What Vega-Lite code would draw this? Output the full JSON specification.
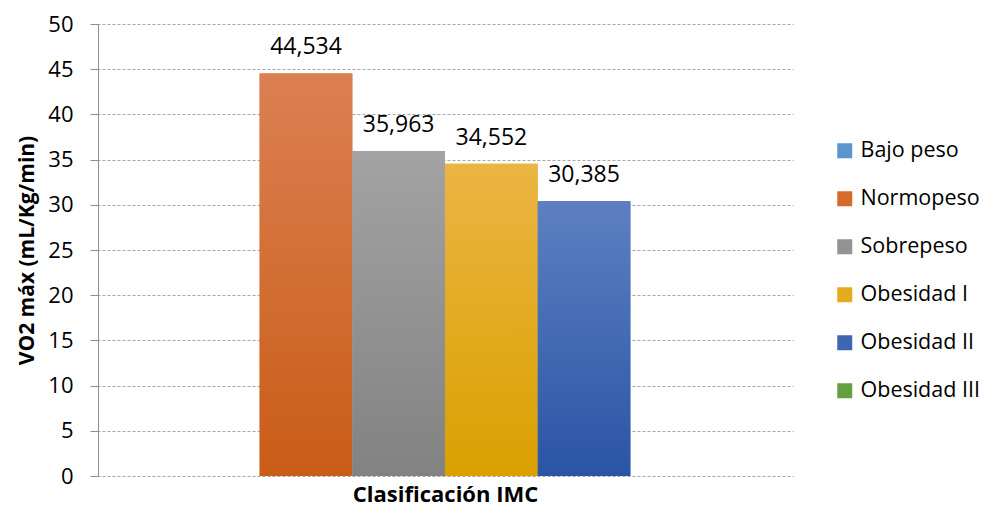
{
  "$schema": "https://vega.github.io/schema/vega-lite/v6.json",
  "width": 696,
  "height": 452,
  "autosize": {"type": "none"},
  "padding": {"left": 97, "top": 24, "right": 192, "bottom": 32},
  "background": "white",
  "config": {
    "view": {"stroke": null},
    "font": "Open Sans",
    "locale": {"number": {"decimal": ",", "thousands": ".", "grouping": [3], "currency": ["", " €"]}}
  },
  "data": {
    "values": [
      {"serie": "Normopeso", "vo2": 44.534},
      {"serie": "Sobrepeso", "vo2": 35.963},
      {"serie": "Obesidad I", "vo2": 34.552},
      {"serie": "Obesidad II", "vo2": 30.385}
    ]
  },
  "encoding": {
    "x": {
      "field": "serie",
      "type": "nominal",
      "scale": {
        "domain": ["Bajo peso", "Normopeso", "Sobrepeso", "Obesidad I", "Obesidad II", "Obesidad III"],
        "paddingInner": 0,
        "paddingOuter": 0.755
      },
      "axis": {
        "title": "Clasificación IMC",
        "labels": false,
        "ticks": false,
        "domain": false,
        "titleFontSize": 22,
        "titleFontWeight": "bold",
        "titleColor": "#000000",
        "titleBaseline": "alphabetic",
        "titlePadding": 25,
        "titleFont": "Open Sans"
      }
    },
    "y": {
      "field": "vo2",
      "type": "quantitative",
      "scale": {"domain": [0, 50], "nice": false},
      "axis": {
        "title": "VO2 máx (mL/Kg/min)",
        "values": [0, 5, 10, 15, 20, 25, 30, 35, 40, 45, 50],
        "labelFontSize": 22,
        "labelColor": "#000000",
        "labelPadding": 17,
        "labelFont": "Open Sans",
        "titleFontSize": 21,
        "titleFontWeight": "bold",
        "titleColor": "#000000",
        "titlePadding": 10,
        "titleFont": "Open Sans",
        "domainColor": "#8C8C8C",
        "tickColor": "#8C8C8C",
        "tickSize": 8,
        "grid": true,
        "gridColor": "#A6A6A6",
        "gridDash": [3, 2],
        "gridWidth": 1,
        "offset": -1
      }
    }
  },
  "layer": [
    {
      "mark": {"type": "bar"},
      "encoding": {
        "color": {
          "field": "serie",
          "type": "nominal",
          "scale": {
            "domain": ["Bajo peso", "Normopeso", "Sobrepeso", "Obesidad I", "Obesidad II", "Obesidad III"],
            "range": ["#5A95D0", "#D46A2C", "#939393", "#E4AB1E", "#3F66B2", "#64A040"]
          },
          "legend": {
            "title": null,
            "orient": "none",
            "legendX": 737,
            "legendY": 116,
            "symbolType": "square",
            "symbolSize": 225,
            "symbolStrokeWidth": 0,
            "symbolOpacity": 1,
            "labelFontSize": 21.5,
            "labelColor": "#000000",
            "labelFont": "Open Sans",
            "labelLimit": 200,
            "rowPadding": 25,
            "labelOffset": 5
          }
        }
      }
    },
    {
      "transform": [{"filter": "datum.serie === 'Normopeso'"}],
      "mark": {"type": "bar", "color": {"gradient": "linear", "x1": 0, "y1": 0, "x2": 0, "y2": 1, "stops": [{"offset": 0, "color": "#DB8052"}, {"offset": 1, "color": "#CA5C17"}]}},
      "encoding": {}
    },
    {
      "transform": [{"filter": "datum.serie === 'Sobrepeso'"}],
      "mark": {"type": "bar", "color": {"gradient": "linear", "x1": 0, "y1": 0, "x2": 0, "y2": 1, "stops": [{"offset": 0, "color": "#A3A3A3"}, {"offset": 1, "color": "#828282"}]}},
      "encoding": {}
    },
    {
      "transform": [{"filter": "datum.serie === 'Obesidad I'"}],
      "mark": {"type": "bar", "color": {"gradient": "linear", "x1": 0, "y1": 0, "x2": 0, "y2": 1, "stops": [{"offset": 0, "color": "#EBB543"}, {"offset": 1, "color": "#DBA000"}]}},
      "encoding": {}
    },
    {
      "transform": [{"filter": "datum.serie === 'Obesidad II'"}],
      "mark": {"type": "bar", "color": {"gradient": "linear", "x1": 0, "y1": 0, "x2": 0, "y2": 1, "stops": [{"offset": 0, "color": "#5C80C2"}, {"offset": 1, "color": "#2A54A5"}]}},
      "encoding": {}
    },
    {
      "mark": {"type": "text", "fontSize": 23, "color": "#000000", "baseline": "alphabetic", "dy": -19, "font": "Open Sans"},
      "encoding": {
        "text": {"field": "vo2", "type": "quantitative", "format": ".3f"}
      }
    }
  ]
}
